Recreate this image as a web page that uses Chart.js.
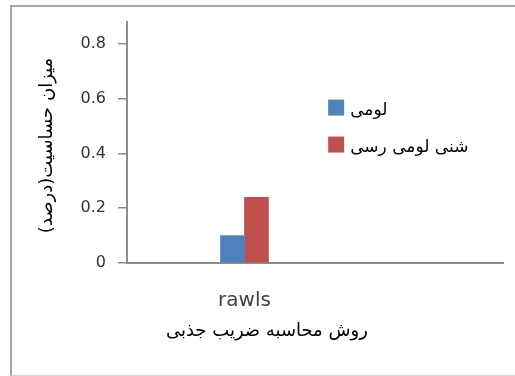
<!DOCTYPE html>
<html>
<head>
<meta charset="utf-8">
<script src="https://cdn.jsdelivr.net/npm/chart.js@4/dist/chart.umd.min.js"></script>
<style>
  html, body { margin: 0; padding: 0; background: #fff; overflow: hidden; }
  #wrap { position: relative; width: 515px; height: 376px; }
  #frame { position: absolute; left: 10px; top: 5px; width: 620px; height: 368px;
           border-left: 2px solid #a6a6a6; border-top: 2px solid #a6a6a6;
           border-bottom: 1px solid #d6d6d6; }
  canvas { position: absolute; left: 0; top: 0; }
</style>
</head>
<body>
<div id="wrap">
  <div id="frame"></div>
  <canvas id="c" width="515" height="376"></canvas>
</div>
<script>
// categories and series values
const categories = ['rawls'];
const seriesNames = ['لومی', 'شنی لومی رسی'];
const loamValues = [0.1];
const sandyClayLoamValues = [0.24];
const yTicks = [0, 0.2, 0.4, 0.6, 0.8];
const xTitle = 'روش محاسبه ضریب جذبی';
const yTitle = 'میزان حساسیت(درصد)';

const colors = ['#4f81bd', '#c0504d'];
const axisColor = '#8c8c8c';
const persianFont = '"DejaVu Sans", sans-serif';

const toPoints = vals => vals.map((v, i) => ({ x: i, y: v }));

// legend drawn inside the plot, box left of the label
const insideLegend = {
  id: 'insideLegend',
  afterDatasetsDraw(chart) {
    const { ctx, chartArea } = chart;
    const x0 = chartArea.left + 0.535 * chartArea.width;
    const y0 = chartArea.top + 0.355 * chartArea.height;
    const gap = 37;
    ctx.save();
    chart.data.datasets.forEach((ds, i) => {
      const y = y0 + i * gap;
      ctx.fillStyle = ds.backgroundColor;
      ctx.fillRect(x0, y - 8, 16, 16);
      ctx.fillStyle = '#000';
      ctx.font = '17px ' + persianFont;
      ctx.textAlign = 'left';
      ctx.textBaseline = 'middle';
      ctx.fillText(ds.label, x0 + 22, y + 3);
    });
    ctx.restore();
  }
};

// axis captions
const axisCaptions = {
  id: 'axisCaptions',
  afterDraw(chart) {
    const { ctx, chartArea } = chart;
    ctx.save();
    ctx.fillStyle = '#000';
    ctx.font = '18px ' + persianFont;
    ctx.textAlign = 'center';
    ctx.textBaseline = 'middle';
    ctx.fillText(xTitle, chartArea.left + 0.372 * chartArea.width, chartArea.bottom + 68);
    ctx.translate(47, (chartArea.top + chartArea.bottom) / 2 + 3);
    ctx.rotate(-Math.PI / 2);
    ctx.fillText(yTitle, 0, 0);
    ctx.restore();
  }
};

new Chart(document.getElementById('c'), {
  type: 'bar',
  data: {
    datasets: [
      { label: seriesNames[0], data: toPoints(loamValues), backgroundColor: colors[0] },
      { label: seriesNames[1], data: toPoints(sandyClayLoamValues), backgroundColor: colors[1] }
    ]
  },
  options: {
    responsive: false,
    animation: false,
    layout: { padding: { top: 22, right: 12, left: 0, bottom: 0 } },
    datasets: { bar: { barThickness: 24 } },
    plugins: { legend: { display: false }, tooltip: { enabled: false } },
    scales: {
      x: {
        type: 'linear',
        offset: false,
        bounds: 'data',
        min: -1,
        max: 2.2,
        afterBuildTicks: s => { s.ticks = categories.map((_, i) => ({ value: i })); },
        afterFit: s => { s.height = 113; },
        grid: { display: false },
        border: { color: axisColor, width: 2 },
        ticks: {
          padding: 18,
          color: '#404040',
          font: { family: '"DejaVu Sans", sans-serif', size: 20 },
          callback: v => categories[v]
        }
      },
      y: {
        min: 0,
        max: 0.88,
        afterBuildTicks: s => { s.ticks = yTicks.map(v => ({ value: v })); },
        afterFit: s => { s.width = 127; },
        grid: { drawOnChartArea: false, color: axisColor, tickLength: 9, lineWidth: 1.5 },
        border: { color: axisColor, width: 2 },
        ticks: {
          padding: 12,
          color: '#333',
          font: { family: '"DejaVu Sans", sans-serif', size: 16 },
          callback: v => String(v)
        }
      }
    }
  },
  plugins: [insideLegend, axisCaptions]
});
</script>
</body>
</html>
